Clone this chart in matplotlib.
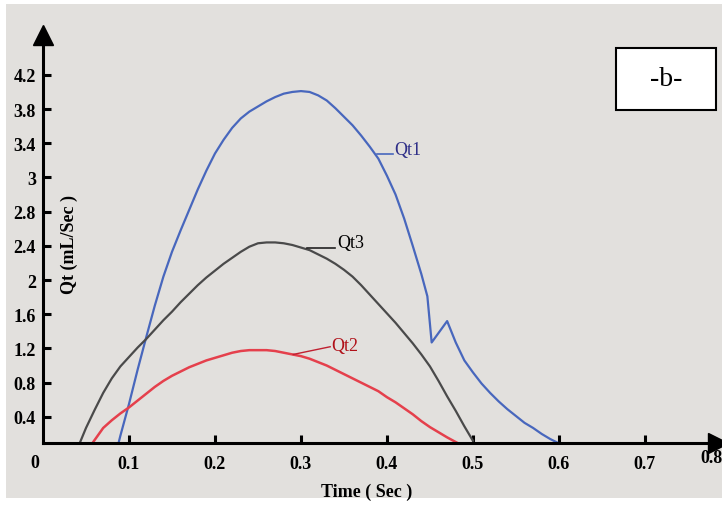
import matplotlib.pyplot as plt
from matplotlib.patches import Rectangle

# values (y in axis units, x in seconds)
qt1_t = [0.088, 0.09, 0.10, 0.11, 0.12, 0.13, 0.14, 0.15, 0.16, 0.17, 0.18, 0.19, 0.20,
         0.21, 0.22, 0.23, 0.24, 0.25, 0.26, 0.27, 0.28, 0.29, 0.30, 0.31, 0.32, 0.33,
         0.34, 0.35, 0.36, 0.37, 0.38, 0.39, 0.40, 0.41, 0.42, 0.43, 0.44, 0.447, 0.452,
         0.470, 0.48, 0.49, 0.50, 0.51, 0.52, 0.53, 0.54, 0.55, 0.56, 0.57, 0.58, 0.59, 0.598]
qt1_q = [0.10, 0.18, 0.55, 0.95, 1.33, 1.70, 2.04, 2.33, 2.58, 2.82, 3.06, 3.28, 3.48,
         3.64, 3.78, 3.89, 3.97, 4.03, 4.09, 4.14, 4.18, 4.20, 4.21, 4.20, 4.16, 4.10,
         4.01, 3.91, 3.81, 3.69, 3.56, 3.42, 3.22, 3.00, 2.72, 2.40, 2.07, 1.81, 1.27,
         1.52, 1.27, 1.06, 0.92, 0.79, 0.68, 0.58, 0.49, 0.41, 0.33, 0.27, 0.20, 0.14, 0.10]

qt3_t = [0.043, 0.05, 0.06, 0.07, 0.08, 0.09, 0.10, 0.11, 0.12, 0.13, 0.14, 0.15, 0.16,
         0.17, 0.18, 0.19, 0.20, 0.21, 0.22, 0.23, 0.24, 0.25, 0.26, 0.27, 0.28, 0.29,
         0.30, 0.31, 0.32, 0.33, 0.34, 0.35, 0.36, 0.37, 0.38, 0.39, 0.40, 0.41, 0.42,
         0.43, 0.44, 0.45, 0.46, 0.47, 0.48, 0.49, 0.50]
qt3_q = [0.10, 0.27, 0.48, 0.68, 0.85, 0.99, 1.10, 1.21, 1.31, 1.42, 1.53, 1.63, 1.74,
         1.84, 1.94, 2.03, 2.11, 2.19, 2.26, 2.33, 2.39, 2.43, 2.44, 2.44, 2.43, 2.41,
         2.38, 2.35, 2.30, 2.25, 2.19, 2.12, 2.04, 1.94, 1.83, 1.72, 1.61, 1.50, 1.38,
         1.26, 1.13, 0.99, 0.82, 0.64, 0.47, 0.29, 0.12]

qt2_t = [0.058, 0.07, 0.08, 0.09, 0.10, 0.11, 0.12, 0.13, 0.14, 0.15, 0.16, 0.17, 0.18,
         0.19, 0.20, 0.21, 0.22, 0.23, 0.24, 0.25, 0.26, 0.27, 0.28, 0.29, 0.30, 0.31,
         0.32, 0.33, 0.34, 0.35, 0.36, 0.37, 0.38, 0.39, 0.40, 0.41, 0.42, 0.43, 0.44,
         0.45, 0.46, 0.47, 0.481]
qt2_q = [0.10, 0.27, 0.36, 0.44, 0.51, 0.59, 0.67, 0.75, 0.82, 0.88, 0.93, 0.98, 1.02,
         1.06, 1.09, 1.12, 1.15, 1.17, 1.18, 1.18, 1.18, 1.17, 1.15, 1.13, 1.11, 1.08,
         1.04, 1.00, 0.95, 0.90, 0.85, 0.80, 0.75, 0.70, 0.63, 0.57, 0.50, 0.43, 0.35,
         0.28, 0.22, 0.16, 0.10]

y_ticks = [0.4, 0.8, 1.2, 1.6, 2.0, 2.4, 2.8, 3.2, 3.6, 4.0, 4.4]
y_labels = ['0.4', '0.8', '1.2', '1.6', '2', '2.4', '2.8', '3', '3.4', '3.8', '4.2']
x_ticks = [0.1, 0.2, 0.3, 0.4, 0.5, 0.6, 0.7]
x_labels = ['0.1', '0.2', '0.3', '0.4', '0.5', '0.6', '0.7']

plt.rcParams['font.family'] = 'Liberation Serif'

fig = plt.figure(figsize=(7.22, 5.06), dpi=100)
fig.patch.set_facecolor('white')
fig.patches.append(Rectangle((6 / 722, 7 / 506), 716 / 722, 494 / 506,
                             transform=fig.transFigure, facecolor='#e2e0dd',
                             edgecolor='none', zorder=-5))

ax = fig.add_axes([43 / 722, (506 - 443.5) / 506, 675 / 722, 408 / 506])
ax.set_facecolor('none')
ax.set_xlim(0, 0.785)
ax.set_ylim(0.1, 0.1 + 408 / 85.5)

for s in ['top', 'right']:
    ax.spines[s].set_visible(False)
for s in ['left', 'bottom']:
    ax.spines[s].set_linewidth(2.2)
    ax.spines[s].set_color('black')

ax.set_yticks(y_ticks)
ax.set_yticklabels(y_labels)
ax.set_xticks(x_ticks)
ax.set_xticklabels(x_labels)
ax.tick_params(axis='both', direction='in', length=6, width=2.2, labelsize=13)
ax.tick_params(axis='y', pad=5)
ax.tick_params(axis='x', pad=9)
for lab in ax.get_xticklabels() + ax.get_yticklabels():
    lab.set_fontweight('bold')

# arrow heads
ax.plot(0, 1, marker='^', color='black', markersize=14, transform=ax.transAxes, clip_on=False)
ax.plot(1, 0, marker='>', color='black', markersize=14, transform=ax.transAxes, clip_on=False)
ax.text(-0.009, -0.13, '0', fontsize=13, fontweight='bold', ha='center', va='center')
ax.text(0.778, -0.08, '0.8', fontsize=13, fontweight='bold', ha='center', va='center', clip_on=False)

ax.plot(qt1_t, qt1_q, color='#4867bd', lw=1.6)
ax.plot(qt3_t, qt3_q, color='#4a4a4a', lw=1.6)
ax.plot(qt2_t, qt2_q, color='#e5404c', lw=1.8)

# curve names with leader lines
ax.plot([0.388, 0.407], [3.47, 3.47], color='#4867bd', lw=1.2)
ax.text(0.409, 3.53, 'Qt1', color='#2f2f88', fontsize=13, va='center')
ax.plot([0.307, 0.340], [2.37, 2.37], color='#222222', lw=1.2)
ax.text(0.342, 2.44, 'Qt3', color='black', fontsize=13, va='center')
ax.plot([0.291, 0.334], [1.13, 1.22], color='#c02030', lw=1.0)
ax.text(0.335, 1.23, 'Qt2', color='#b01018', fontsize=13, va='center')

ax.set_xlabel('Time ( Sec )', fontsize=13, fontweight='bold')
ax.xaxis.set_label_coords(0.48, -0.119)
ax.xaxis.label.set_verticalalignment('center')
ax.text(0.031, 2.43, 'Qt (mL/Sec )', rotation=90, fontsize=13, fontweight='bold',
        ha='center', va='center')

fig.patches.append(Rectangle((616 / 722, (506 - 111) / 506), 100 / 722, 62 / 506,
                             transform=fig.transFigure, facecolor='white',
                             edgecolor='black', lw=1.5, zorder=3))
fig.text(666 / 722, (506 - 80) / 506, '-b-', fontsize=20, ha='center', va='center', zorder=4)

fig.savefig('out.png', dpi=100)
